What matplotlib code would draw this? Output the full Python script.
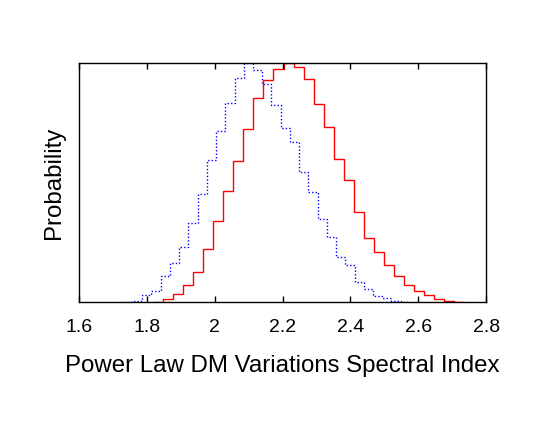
import numpy as np
import matplotlib
matplotlib.use("Agg")
import matplotlib.pyplot as plt

plt.rcParams['font.family'] = ['Liberation Sans', 'DejaVu Sans']

# Red (solid) histogram: bin start, bin width, normalised heights
red_start = 1.818
red_width = 0.0296
red_vals = [0.001, 0.011, 0.032, 0.070, 0.124, 0.222, 0.340, 0.463, 0.590, 0.724,
            0.856, 0.929, 0.975, 1.000, 0.982, 0.933, 0.831, 0.732, 0.598, 0.509,
            0.378, 0.269, 0.210, 0.155, 0.108, 0.071, 0.046, 0.028, 0.014, 0.004,
            0.001]

# Blue (dotted) histogram
blue_start = 1.732
blue_width = 0.0272
blue_vals = [0.002, 0.006, 0.030, 0.046, 0.108, 0.165, 0.232, 0.332, 0.453, 0.594,
             0.717, 0.834, 0.936, 1.000, 0.971, 0.911, 0.824, 0.729, 0.671, 0.543,
             0.459, 0.346, 0.271, 0.187, 0.155, 0.085, 0.054, 0.026, 0.015, 0.003,
             0.001]

xticks = [1.6, 1.8, 2.0, 2.2, 2.4, 2.6, 2.8]
xticklabels = ['1.6', '1.8', '2', '2.2', '2.4', '2.6', '2.8']

fig = plt.figure(figsize=(5.45, 4.21), dpi=100)
ax = fig.add_axes([0.145, 0.2827, 0.747, 0.5673])

red_edges = red_start + red_width * np.arange(len(red_vals) + 1)
blue_edges = blue_start + blue_width * np.arange(len(blue_vals) + 1)

ax.stairs(blue_vals, blue_edges, color='#0000ff', linestyle=(0, (1, 1.5)), linewidth=1.0)
ax.stairs(red_vals, red_edges, color='#ff0000', linewidth=1.0)

ax.set_xlim(1.6, 2.8)
ax.set_ylim(0, 1.0)
ax.set_xticks(xticks)
ax.set_xticklabels(xticklabels)
ax.set_yticks([])
ax.tick_params(axis='x', direction='in', top=True, length=4, width=1, labelsize=14, pad=12)
for s in ax.spines.values():
    s.set_linewidth(1.0)

ax.set_xlabel('Power Law DM Variations Spectral Index', fontsize=17.3, labelpad=14)
ax.set_ylabel('Probability', fontsize=17.3, labelpad=10)

fig.savefig('out.png', dpi=100)
